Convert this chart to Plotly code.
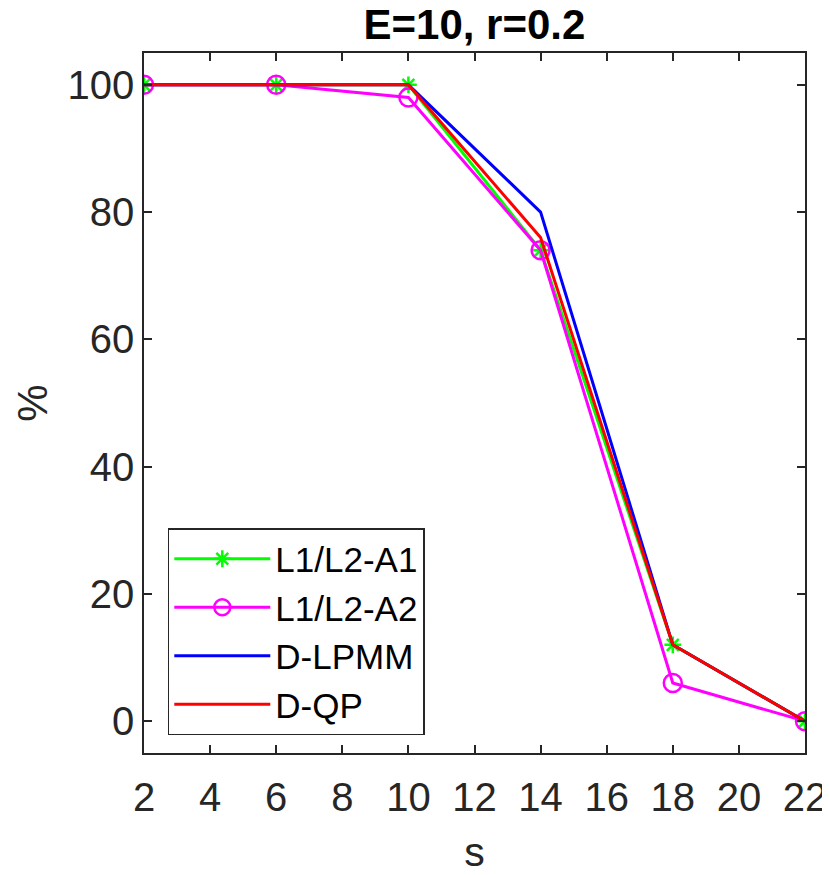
import plotly.graph_objects as go

# sparsity levels and recovery rates (%)
s_vals = [2, 6, 10, 14, 18, 22]
a1_vals = [100, 100, 100, 74, 12, 0]
a2_vals = [100, 100, 98, 74, 6, 0]
lpmm_vals = [100, 100, 100, 80, 12, 0]
qp_vals = [100, 100, 100, 76, 12, 0]

x_ticks = [2, 4, 6, 8, 10, 12, 14, 16, 18, 20, 22]
y_ticks = [0, 20, 40, 60, 80, 100]

AXIS_COLOR = '#262626'
FONT = 'Liberation Sans, Arial, Helvetica, sans-serif'

fig = go.Figure()

fig.add_trace(go.Scatter(
    x=s_vals, y=a1_vals, name='L1/L2-A1', mode='lines+markers',
    line=dict(color='#00FF00', width=3),
    marker=dict(symbol='asterisk-open', size=14, color='#00FF00',
                line=dict(color='#00FF00', width=2.5)),
))
fig.add_trace(go.Scatter(
    x=s_vals, y=a2_vals, name='L1/L2-A2', mode='lines+markers',
    line=dict(color='#FF00FF', width=3),
    marker=dict(symbol='circle-open', size=18, color='#FF00FF',
                line=dict(color='#FF00FF', width=2.5)),
))
fig.add_trace(go.Scatter(
    x=s_vals, y=lpmm_vals, name='D-LPMM', mode='lines',
    line=dict(color='#0000FF', width=3),
))
fig.add_trace(go.Scatter(
    x=s_vals, y=qp_vals, name='D-QP', mode='lines',
    line=dict(color='#FF0000', width=3),
))

axis_common = dict(
    showgrid=False, zeroline=False, automargin=False,
    showline=True, linecolor=AXIS_COLOR, linewidth=1.5,
    mirror='allticks', ticks='inside', ticklen=8, tickwidth=1.5,
    tickcolor=AXIS_COLOR, ticklabeloverflow='allow',
    tickfont=dict(family=FONT, size=40, color=AXIS_COLOR),
)

# page has an 8px body margin, so the figure is offset by 8px
fig.update_layout(
    width=830, height=875,
    margin=dict(l=136, r=33, t=45, b=130),
    paper_bgcolor='white', plot_bgcolor='white',
    title=dict(text='<b>E=10, r=0.2</b>', x=0.562, xanchor='center',
               y=1.0, yanchor='top', pad=dict(t=2, b=0),
               font=dict(family=FONT, size=42, color='black')),
    xaxis=dict(axis_common, range=[2, 22], tickvals=x_ticks,
               ticklabelstandoff=8,
               title=dict(text='s', standoff=20,
                          font=dict(family=FONT, size=41, color=AXIS_COLOR))),
    yaxis=dict(axis_common, range=[-5, 105], tickvals=y_ticks),
    legend=dict(
        x=0.036, y=0.3214, xanchor='left', yanchor='top',
        bgcolor='white', bordercolor=AXIS_COLOR, borderwidth=1.5,
        font=dict(family=FONT, size=35, color='black'),
        itemwidth=96, tracegroupgap=0,
    ),
    showlegend=True,
)

# y-axis label placed further left than plotly's title standoff allows
fig.add_annotation(
    text='%', xref='paper', yref='paper', x=-0.17, y=0.5,
    xanchor='center', yanchor='middle', textangle=-90, showarrow=False,
    font=dict(family=FONT, size=42, color=AXIS_COLOR),
)

fig.write_html('out.html')
